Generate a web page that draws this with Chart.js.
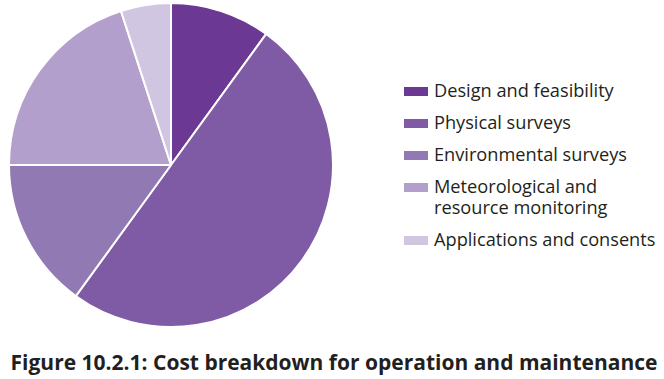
<!DOCTYPE html>
<html>
<head>
<meta charset="utf-8">
<script src="https://cdn.jsdelivr.net/npm/chart.js@4"></script>
<style>
  html, body { margin: 0; padding: 0; background: #fff; }
  body { width: 664px; height: 379px; position: relative; overflow: hidden; font-family: "Open Sans", "Noto Sans", sans-serif; color: #231f20; }
  #wrap { position: absolute; left: 0; top: 0; width: 342px; height: 330px; }
  #legend { position: absolute; left: 404px; top: 80px; margin: 0; padding: 0; list-style: none; font-size: 18.2px; white-space: nowrap; }
  #legend li { position: relative; padding-left: 30px; line-height: 21px; margin-bottom: 11px; }
  #legend li span { position: absolute; left: 0; top: 7px; width: 24px; height: 9px; }
  #title { position: absolute; left: 0; width: 668px; top: 348px; text-align: center; font-weight: bold; font-size: 21px; white-space: nowrap; }
</style>
</head>
<body>
<div id="wrap"><canvas id="pie"></canvas></div>
<ul id="legend"></ul>
<div id="title">Figure 10.2.1: Cost breakdown for operation and maintenance</div>
<script>
const categories = ['Design and feasibility', 'Physical surveys', 'Environmental surveys', 'Meteorological and\nresource monitoring', 'Applications and consents'];
const shares = [10, 50, 15, 20, 5];
const colours = ['#6b3894', '#7f5aa5', '#9179b4', '#b39fcb', '#d0c6e2'];

document.addEventListener('DOMContentLoaded', () => {
    const ctx = document.getElementById('pie');
    new Chart(ctx, {
        type: 'pie',
        data: {
            labels: categories,
            datasets: [{
                data: shares,
                backgroundColor: colours,
                borderColor: '#ffffff',
                borderWidth: 2,
            }]
        },
        options: {
            responsive: true,
            maintainAspectRatio: false,
            animation: false,
            layout: { padding: { left: 8, right: 8, top: 2, bottom: 2 } },
            plugins: {
                legend: { display: false },
                tooltip: { enabled: false },
            }
        }
    });

    const legend = document.getElementById('legend');
    categories.forEach((name, i) => {
        const li = document.createElement('li');
        const box = document.createElement('span');
        box.style.background = colours[i];
        li.appendChild(box);
        name.split('\n').forEach((line, j) => {
            if (j > 0) li.appendChild(document.createElement('br'));
            li.appendChild(document.createTextNode(line));
        });
        legend.appendChild(li);
    });
});
</script>
</body>
</html>
